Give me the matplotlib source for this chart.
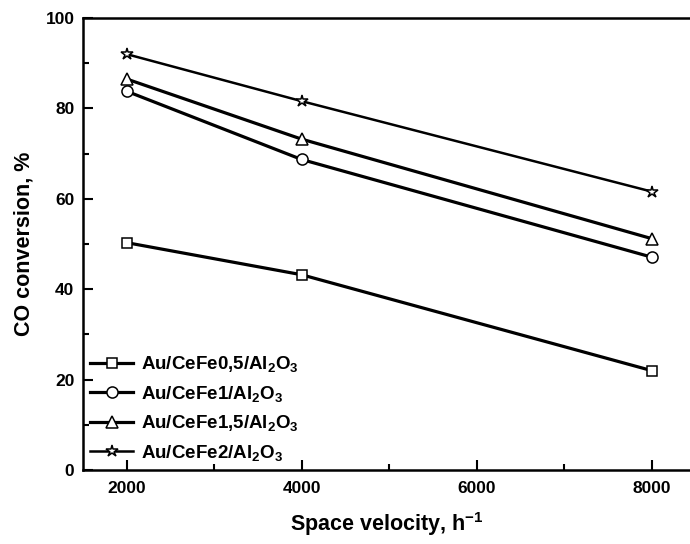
import matplotlib
matplotlib.use('Agg')
import matplotlib.pyplot as plt
from matplotlib.ticker import MultipleLocator

# Bold Arial-like look, subscripts bold too
plt.rcParams['font.family'] = ['Liberation Sans', 'DejaVu Sans']
plt.rcParams['font.weight'] = 'bold'
plt.rcParams['mathtext.fontset'] = 'custom'
plt.rcParams['mathtext.rm'] = 'Liberation Sans:bold'
plt.rcParams['mathtext.default'] = 'rm'

# Data
space_velocity = [2000, 4000, 8000]
cefe05 = [50.3, 43.2, 22.0]
cefe1 = [83.8, 68.7, 47.1]
cefe15 = [86.5, 73.2, 51.2]
cefe2 = [92.0, 81.6, 61.6]

labels = ['Au/CeFe0,5/Al$_2$O$_3$', 'Au/CeFe1/Al$_2$O$_3$',
          'Au/CeFe1,5/Al$_2$O$_3$', 'Au/CeFe2/Al$_2$O$_3$']
markers = ['s', 'o', '^', '*']
msizes = [7, 8, 8.5, 9]
widths = [2.3, 2.3, 2.3, 1.8]

fig = plt.figure(figsize=(6.9, 5.44), dpi=100)
ax = fig.add_axes([0.120, 0.136, 0.880, 0.831])

for ys, lab, m, ms, lw in zip([cefe05, cefe1, cefe15, cefe2], labels, markers, msizes, widths):
    ax.plot(space_velocity, ys, color='black', lw=lw, marker=m, ms=ms,
            mfc='white', mec='black', mew=1.1, label=lab)

ax.set_xlim(1500, 8440)
ax.set_ylim(0, 100)
ax.xaxis.set_major_locator(MultipleLocator(2000))
ax.xaxis.set_minor_locator(MultipleLocator(1000))
ax.yaxis.set_major_locator(MultipleLocator(20))
ax.yaxis.set_minor_locator(MultipleLocator(10))
ax.tick_params(which='both', direction='in', top=False, right=False, width=1.5)
ax.tick_params(which='major', length=7, labelsize=12.5)
ax.tick_params(axis='x', which='major', pad=8)
ax.tick_params(axis='y', which='major', pad=6)
ax.tick_params(which='minor', length=4)
ax.spines['right'].set_visible(False)
for s in ['left', 'bottom', 'top']:
    ax.spines[s].set_linewidth(1.8)

ax.set_xlabel('Space velocity, h$^{-1}$', fontsize=15.5, fontweight='bold', labelpad=10)
ax.set_ylabel('CO conversion, %', fontsize=15.5, fontweight='bold', labelpad=8)

ax.legend(loc='lower left', frameon=False, fontsize=13.5, handlelength=2.3,
          handletextpad=0.4, labelspacing=0.5, borderaxespad=0.0,
          bbox_to_anchor=(0.0, 0.0))

fig.savefig('out.png', dpi=100)
